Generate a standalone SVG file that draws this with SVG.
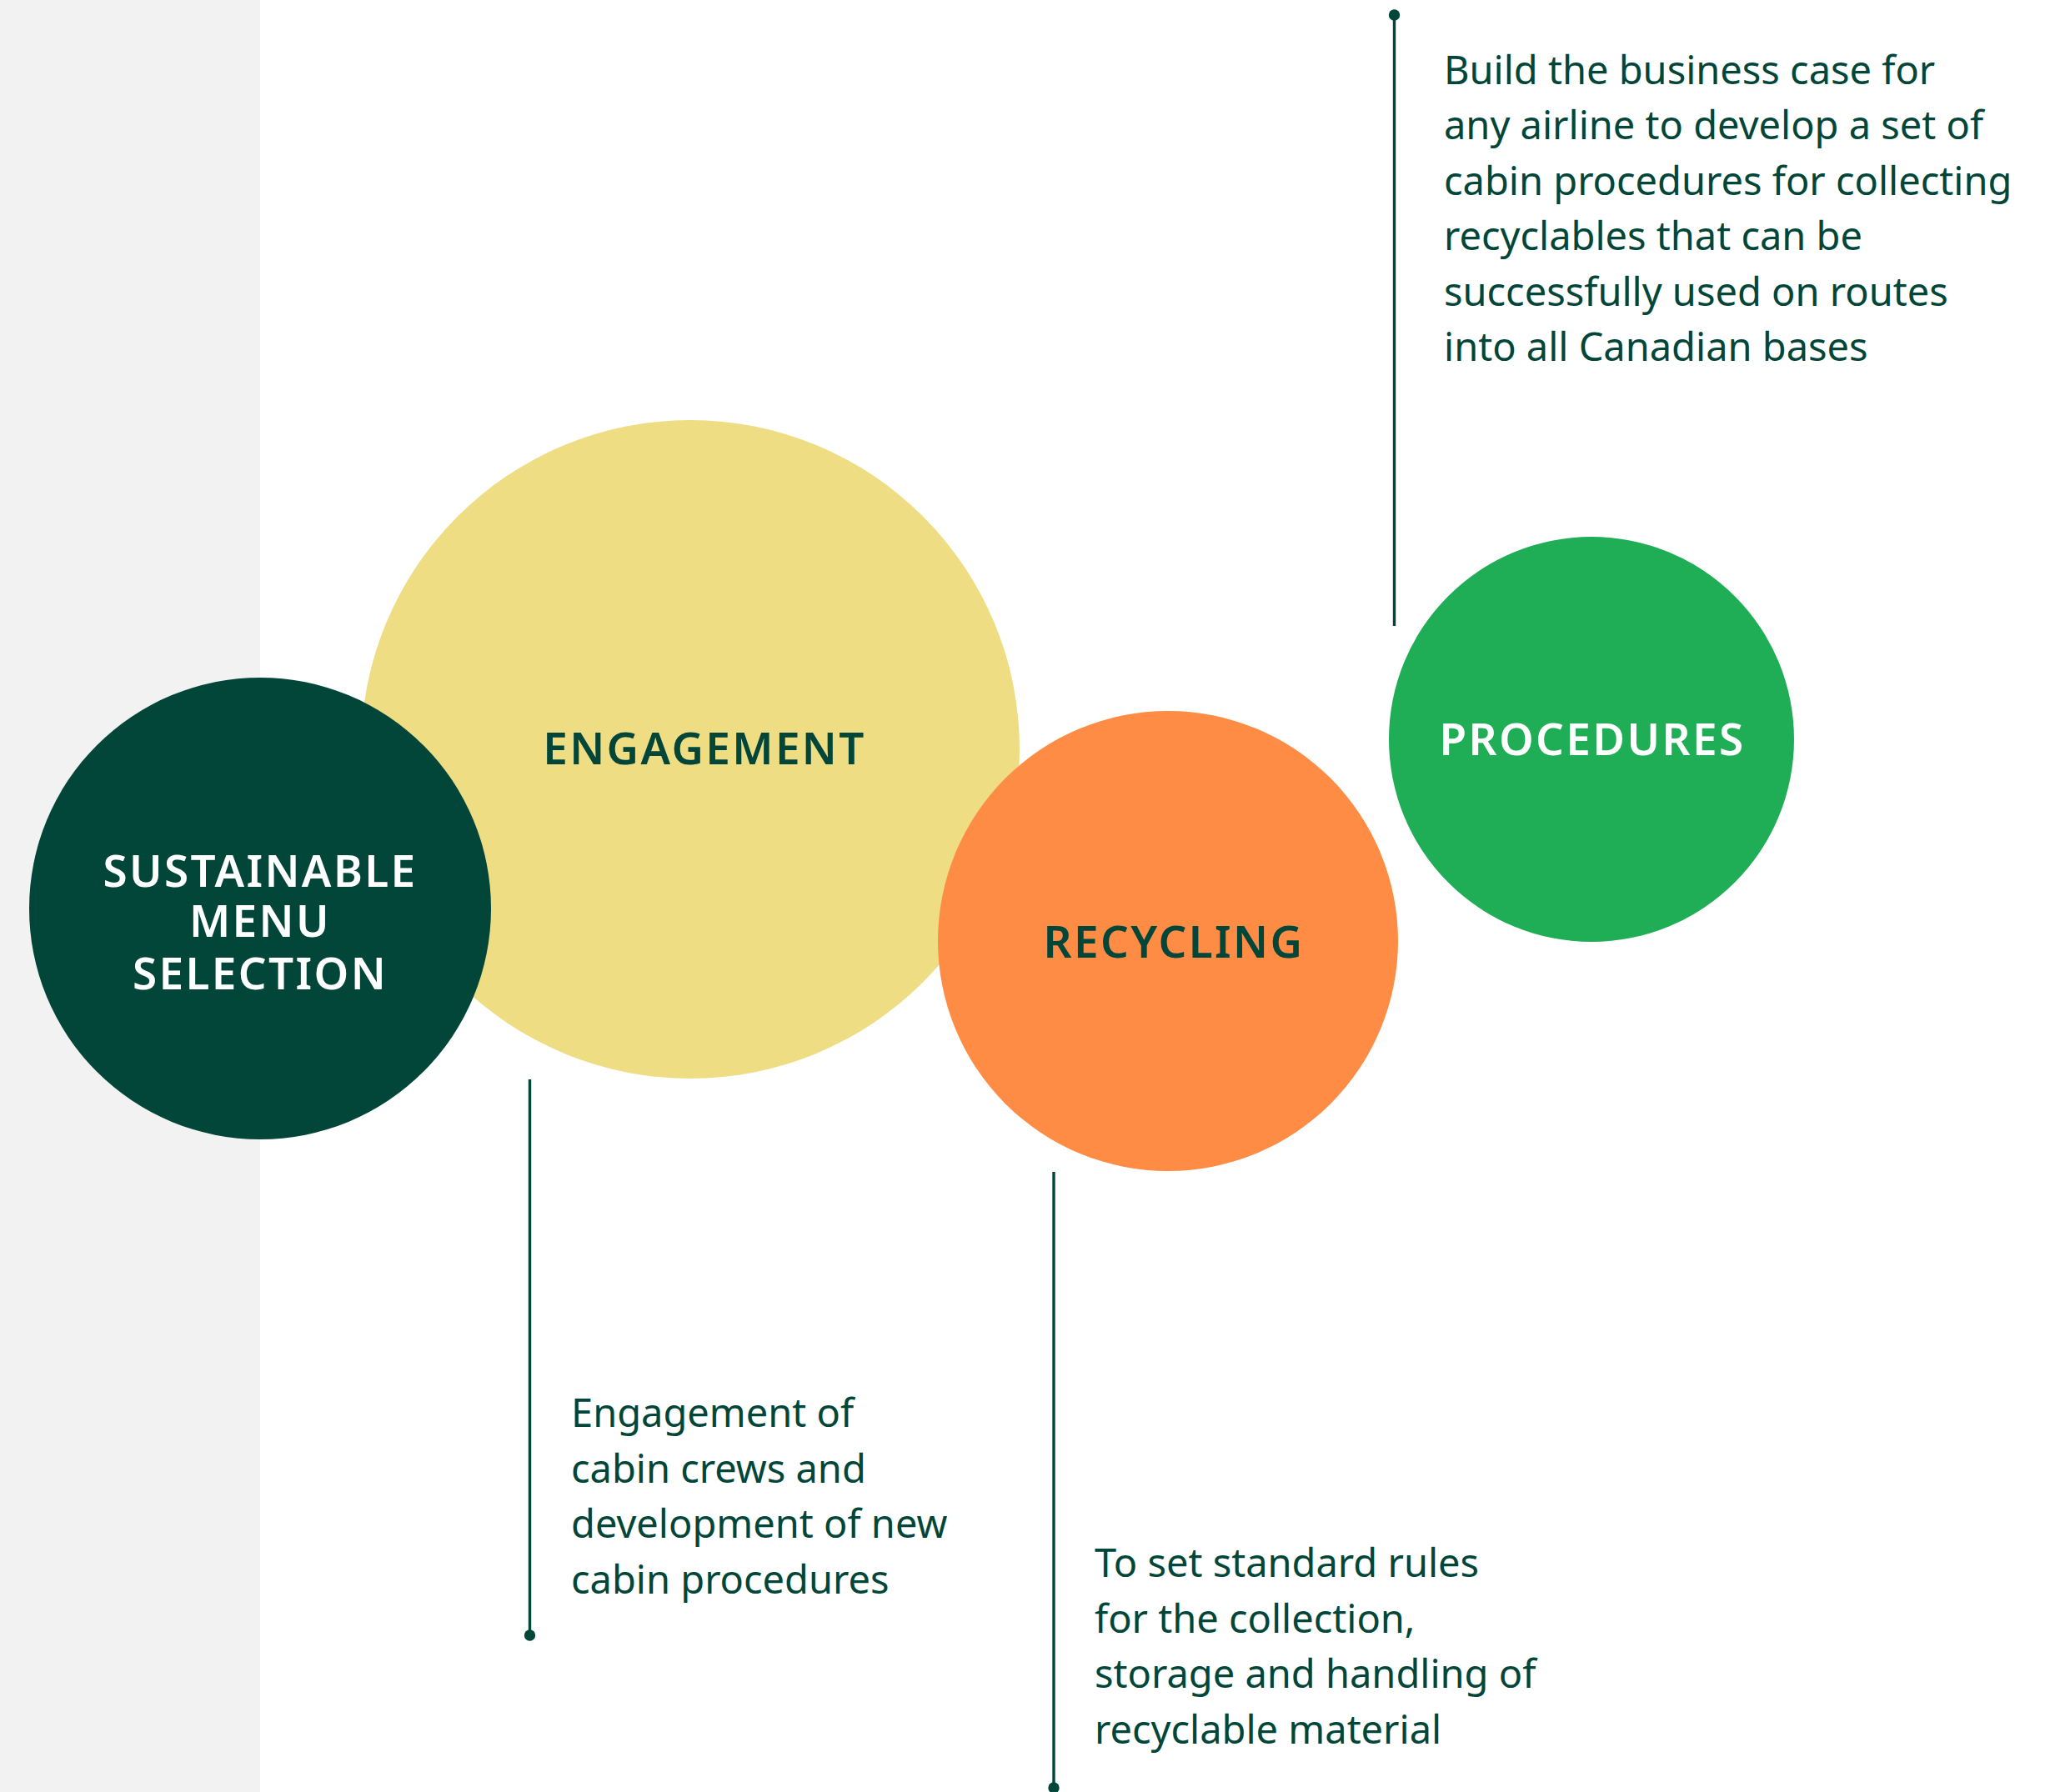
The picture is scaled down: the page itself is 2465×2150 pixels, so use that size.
<svg xmlns="http://www.w3.org/2000/svg" width="2465" height="2150" viewBox="0 0 2465 2150">
<style>
.body{font-family:"Noto Sans","Liberation Sans",sans-serif;font-size:47px;fill:#02463a}
.lbl{font-family:"Noto Sans","Liberation Sans",sans-serif;font-size:53px;font-weight:600;text-anchor:middle;letter-spacing:2.4px}
.ln{stroke:#02463a;stroke-width:3.4;fill:none}
.dot{fill:#02463a}
</style>
<rect x="0" y="0" width="2465" height="2150" fill="#ffffff"/>
<rect x="0" y="0" width="312" height="2150" fill="#f2f2f2"/>
<g id="connectors">
<line class="ln" x1="1672.5" y1="18" x2="1672.5" y2="751"/>
<circle class="dot" cx="1672.5" cy="18" r="6.7"/>
<line class="ln" x1="635.5" y1="1295" x2="635.5" y2="1962"/>
<circle class="dot" cx="635.5" cy="1962" r="6.7"/>
<line class="ln" x1="1264" y1="1406" x2="1264" y2="2145"/>
<circle class="dot" cx="1264" cy="2145" r="6.7"/>
</g>
<g id="engagement">
<circle cx="828" cy="899" r="395" fill="#eedd82"/>
<text class="lbl" x="845" y="917" fill="#02463a">ENGAGEMENT</text>
</g>
<g id="sustainable">
<circle cx="312" cy="1090" r="277" fill="#02463a"/>
<text class="lbl" x="312" y="1064" fill="#ffffff">SUSTAINABLE</text>
<text class="lbl" x="312" y="1124" fill="#ffffff">MENU</text>
<text class="lbl" x="312" y="1187" fill="#ffffff">SELECTION</text>
</g>
<g id="recycling">
<circle cx="1401" cy="1129" r="276" fill="#ff8c45"/>
<text class="lbl" x="1408" y="1149" fill="#02463a">RECYCLING</text>
</g>
<g id="procedures">
<circle cx="1909" cy="887" r="243" fill="#1fad55"/>
<text class="lbl" x="1910" y="906" fill="#ffffff">PROCEDURES</text>
</g>
<g id="note-procedures">
<text class="body"><tspan x="1732" y="100.7">Build the business case for</tspan><tspan x="1732" y="167.2">any airline to develop a set of</tspan><tspan x="1732" y="233.7">cabin procedures for collecting</tspan><tspan x="1732" y="300.2">recyclables that can be</tspan><tspan x="1732" y="366.7">successfully used on routes</tspan><tspan x="1732" y="433.2">into all Canadian bases</tspan></text>
</g>
<g id="note-engagement">
<text class="body"><tspan x="685" y="1712">Engagement of</tspan><tspan x="685" y="1778.5">cabin crews and</tspan><tspan x="685" y="1845">development of new</tspan><tspan x="685" y="1911.5">cabin procedures</tspan></text>
</g>
<g id="note-recycling">
<text class="body"><tspan x="1313" y="1892">To set standard rules</tspan><tspan x="1313" y="1958.5">for the collection,</tspan><tspan x="1313" y="2025">storage and handling of</tspan><tspan x="1313" y="2091.5">recyclable material</tspan></text>
</g>
</svg>
